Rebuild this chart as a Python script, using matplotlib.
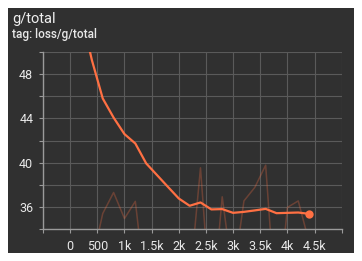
import numpy as np
import matplotlib
matplotlib.use("Agg")
import matplotlib.pyplot as plt
from matplotlib.patches import Rectangle

plt.rcParams['font.family'] = ['Roboto', 'DejaVu Sans']

# steps and values
steps = [200, 400, 600, 800, 1000, 1200, 1400, 1600, 1800, 2000, 2200,
         2400, 2600, 2800, 3000, 3200, 3400, 3600, 3800, 4000, 4200, 4400]
smoothed = [53.5, 49.27, 45.80, 44.07, 42.58, 41.73, 39.93, 38.87, 37.81,
            36.76, 36.10, 36.40, 35.77, 35.80, 35.46, 35.55, 35.68, 35.82,
            35.43, 35.46, 35.49, 35.37]
raw = [30.0, 31.0, 35.4, 37.3, 34.95, 36.5, 28.0, 31.0, 30.0, 31.0, 29.0,
       39.53, 26.0, 36.91, 29.5, 36.54, 37.76, 39.77, 26.0, 35.95, 36.54, 32.8]

xticks = [0, 500, 1000, 1500, 2000, 2500, 3000, 3500, 4000, 4500]
xticklabels = ['0', '500', '1k', '1.5k', '2k', '2.5k', '3k', '3.5k', '4k', '4.5k']
yticks = [36, 40, 44, 48]

W, H = 362, 261
fig = plt.figure(figsize=(W / 100, H / 100), dpi=100, facecolor='white')

# dark card behind the chart
card = Rectangle((8 / W, (H - 253) / H), 346 / W, 245 / H,
                 transform=fig.transFigure, facecolor='#303030',
                 edgecolor='none', zorder=-10)
fig.patches.append(card)

fig.text(12 / W, 1 - 19 / H, 'g/total', color='#f0f0f0', fontsize=10.5,
         va='center', ha='left')
fig.text(12 / W, 1 - 34.5 / H, 'tag: loss/g/total', color='#e8e8e8',
         fontsize=8.5, fontweight='medium', va='center', ha='left')

ax = fig.add_axes([43 / W, (H - 229) / H, (341.7 - 43) / W, (229 - 52) / H])
ax.set_facecolor('none')
ax.set_zorder(5)

ax.plot(steps, raw, color='#ff7043', alpha=0.28, lw=1.1, zorder=2)
ax.plot(steps, smoothed, color='#ff7043', lw=1.6, zorder=3)
ax.plot(steps[-1], smoothed[-1], 'o', color='#ff7043', ms=6, mec='none', zorder=4)

ax.set_xlim(-500, 5000)
ax.set_ylim(34, 50)

# ticks every 500 / every 2 with grid, labels only on some
ax.set_xticks(np.arange(-500, 5001, 500))
ax.set_xticklabels([''] + xticklabels + [''])
ax.set_yticks(np.arange(34, 50.1, 2))
ax.set_yticklabels([str(v) if v in yticks else '' for v in np.arange(34, 51, 2)])

ax.grid(True, color='#5a5a5a', lw=0.8)
ax.set_axisbelow(True)
for s in ['top', 'right']:
    ax.spines[s].set_visible(False)
for s in ['left', 'bottom']:
    ax.spines[s].set_color('#9a9a9a')
    ax.spines[s].set_linewidth(1.0)

ax.tick_params(axis='both', colors='#9a9a9a', labelcolor='#e8e8e8',
               labelsize=9, length=3, width=0.8)
ax.tick_params(axis='x', pad=5)
ax.tick_params(axis='y', pad=4)

fig.savefig('out.png', dpi=100, facecolor='white')
